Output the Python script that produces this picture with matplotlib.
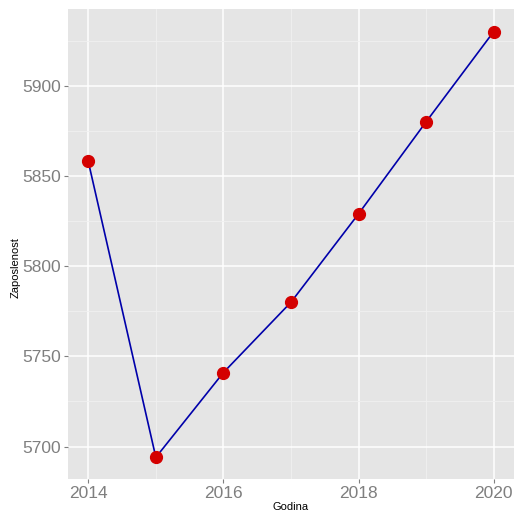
import matplotlib
matplotlib.use("Agg")
from matplotlib import pyplot as plt
from matplotlib.ticker import MultipleLocator

plt.rcParams['font.family'] = ['Liberation Sans', 'DejaVu Sans']

# podaci
godine = [2014, 2015, 2016, 2017, 2018, 2019, 2020]
zaposlenost = [5858, 5694, 5741, 5780, 5829, 5880, 5930]

fig = plt.figure(figsize=(5.14, 5.12), dpi=100)
ax = fig.add_axes([68 / 514, 33 / 512, 446 / 514, 470 / 512])
ax.set_facecolor("#e5e5e5")
for s in ax.spines.values():
    s.set_visible(False)

ax.set_xlim(2013.7, 2020.3)
ax.set_ylim(5682, 5942.5)
ax.xaxis.set_major_locator(MultipleLocator(2))
ax.xaxis.set_minor_locator(MultipleLocator(1))
ax.yaxis.set_major_locator(MultipleLocator(50))
ax.yaxis.set_minor_locator(MultipleLocator(25))

ax.grid(which="major", color="white", linewidth=1.1)
ax.grid(which="minor", color="#f0f0f0", linewidth=0.6)
ax.set_axisbelow(True)

ax.tick_params(which="major", length=3, width=0.8, color="#7f7f7f",
               labelcolor="#7f7f7f", labelsize=12.5, pad=2)
ax.tick_params(which="minor", length=0)

ax.plot(godine, zaposlenost, color="#0000aa", linewidth=1.2, zorder=3)
ax.plot(godine, zaposlenost, "o", color="#d40000", markersize=8.5, zorder=4)

ax.set_xlabel("Godina", fontsize=8, va="center")
ax.set_ylabel("Zaposlenost", fontsize=8, va="center")
ax.xaxis.set_label_coords((291 - 68) / 446, -(507 - 479) / 470)
ax.yaxis.set_label_coords(-(68 - 16) / 446, (479 - 268) / 470)

plt.savefig("out.png", dpi=100)
